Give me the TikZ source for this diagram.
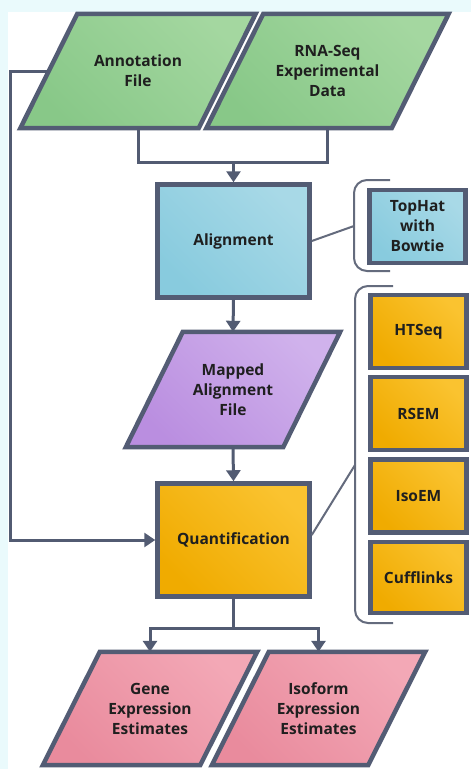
\documentclass[tikz,border=0pt]{standalone}
\usepackage{fontspec}
\setmainfont{Open Sans}
\usetikzlibrary{arrows.meta}
\pgfdeclarelayer{ground}
\pgfdeclarelayer{bg}
\pgfsetlayers{ground,bg,main}

\definecolor{edge}{HTML}{535C74}
\definecolor{wire}{HTML}{525B72}
\definecolor{brack}{HTML}{646B7D}
\definecolor{haze}{HTML}{EAFAFC}
\definecolor{grnA}{HTML}{88C888}
\definecolor{grnB}{HTML}{A4D7A0}
\definecolor{bluA}{HTML}{88CBDE}
\definecolor{bluB}{HTML}{A8D9E7}
\definecolor{purA}{HTML}{BA8EE0}
\definecolor{purB}{HTML}{D0B2EC}
\definecolor{orgA}{HTML}{F0AB00}
\definecolor{orgB}{HTML}{FAC330}
\definecolor{pnkA}{HTML}{E98B9D}
\definecolor{pnkB}{HTML}{F3A8B6}

% slanted data box: body node is invisible, outline drawn on the background layer
\newcommand\slantbox[3]{% #1 node name, #2 low colour, #3 high colour
  \begin{pgfonlayer}{bg}
    \path[draw=edge, line width=4.5pt, line join=miter, left color=#2, right color=#3, shading angle=135]
      ([xshift=-28.5pt]#1.south west) -- ([xshift=-28.5pt]#1.south east)
      -- ([xshift=28.5pt]#1.north east) -- ([xshift=28.5pt]#1.north west) -- cycle;
  \end{pgfonlayer}}

\begin{document}
\begin{tikzpicture}[x=1pt, y=-1pt,
  txt/.style={font=\fontsize{15.5}{20}\selectfont\bfseries, text=black!88, align=center, inner sep=0pt},
  databox/.style={txt, minimum width=#1, minimum height=114pt},
  procbox/.style={txt, draw=edge, line width=4.5pt, minimum width=152pt, minimum height=113pt},
  toolbox/.style={txt, draw=edge, line width=4.5pt, minimum width=96pt, minimum height=73pt},
  wireline/.style={draw=wire, line width=3pt},
  flow/.style={wireline, -{Triangle[length=11pt, width=14pt]}},
  bracket/.style={draw=brack, line width=2pt, rounded corners=13pt},
  shadeB/.style={left color=bluA, right color=bluB, shading angle=135},
  shadeO/.style={left color=orgA, right color=orgB, shading angle=135}]

  % page ground with its pale top and left margins
  \useasboundingbox (0,0) rectangle (471,769);
  \begin{pgfonlayer}{ground}
    \fill[haze] (0,0) rectangle (471,769);
    \fill[white] (8,12) rectangle (471,769);
  \end{pgfonlayer}

  % input data
  \node[databox=178pt] (annot) at (138,71) {Annotation\\File};
  \slantbox{annot}{grnA}{grnB}
  \node[databox=185pt] (rnaseq) at (327.5,71) {RNA-Seq\\Experimental\\Data};
  \slantbox{rnaseq}{grnA}{grnB}

  % processing steps
  \node[procbox, shadeB] (align) at (233.5,241) {Alignment};
  \node[databox=157pt, minimum height=115pt] (mapped) at (233,389.5) {Mapped\\Alignment\\File};
  \slantbox{mapped}{purA}{purB}
  \node[procbox, shadeO] (quant) at (233.5,540) {Quantification};

  % outputs
  \node[databox=157pt, minimum height=113pt] (gene) at (150,708.5) {Gene\\Expression\\Estimates};
  \slantbox{gene}{pnkA}{pnkB}
  \node[databox=156pt, minimum height=113pt] (iso) at (318.5,708.5) {Isoform\\Expression\\Estimates};
  \slantbox{iso}{pnkA}{pnkB}

  % tools
  \node[toolbox, shadeB] (tophat) at (417.5,226.5) {TopHat\\with\\Bowtie};
  \node[toolbox, shadeO] (htseq) at (418.5,331.5) {HTSeq};
  \node[toolbox, shadeO] (rsem) at (418.5,413.5) {RSEM};
  \node[toolbox, shadeO] (isoem) at (418.5,496) {IsoEM};
  \node[toolbox, shadeO, minimum height=71pt] (cuff) at (418.5,577.5) {Cufflinks};

  % brackets grouping the tools
  \draw[bracket] (390,180) -- (354,180) -- (354,271) -- (390,271);
  \draw[bracket] (393,286) -- (355,286) -- (355,623) -- (393,623);
  \coordinate (topbr) at (354,226);
  \coordinate (quantbr) at (355,465);
  \draw[wireline, line width=2pt, draw=brack] (align.east) -- (topbr);
  \draw[wireline, line width=2pt, draw=brack] ([yshift=5pt]quant.east) -- (quantbr);

  % data flow
  \coordinate (merge) at (233.5,162);
  \draw[wireline] (annot.south) |- (merge) -| (rnaseq.south);
  \draw[flow] (merge) -- (align.north);
  \draw[flow] (align.south) -- (mapped.north);
  \draw[flow] (mapped.south) -- (quant.north);
  \draw[flow] (annot.west) -- (10,71) |- (quant.west);
  \coordinate (split) at (233.5,628);
  \draw[wireline] (quant.south) -- (split);
  \draw[flow] (split) -| (gene.north);
  \draw[flow] (split) -| (iso.north);
\end{tikzpicture}
\end{document}
